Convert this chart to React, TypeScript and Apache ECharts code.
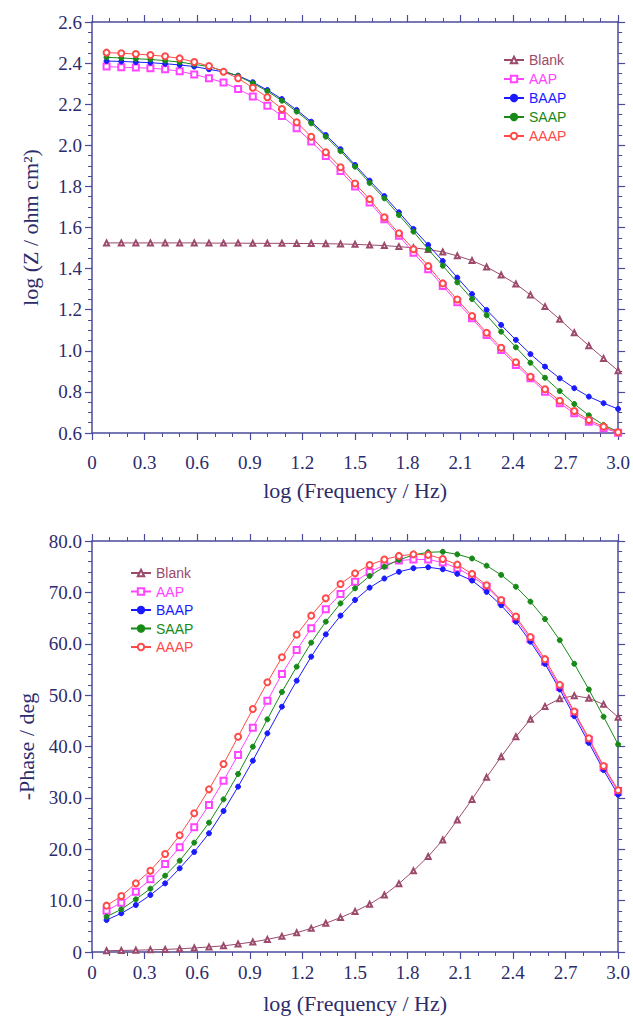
import React, { useEffect, useRef } from "react";
import * as echarts from "echarts";

// log(Frequency / Hz) sampling points
const logFreq = [0.083, 0.167, 0.25, 0.333, 0.417, 0.5, 0.583, 0.667, 0.75, 0.833, 0.917, 1.0, 1.083, 1.167, 1.25, 1.333, 1.417, 1.5, 1.583, 1.667, 1.75, 1.833, 1.917, 2.0, 2.083, 2.167, 2.25, 2.333, 2.417, 2.5, 2.583, 2.667, 2.75, 2.833, 2.917, 3.0];

const seriesNames = ["Blank", "AAP", "BAAP", "SAAP", "AAAP"];

// log |Z| (top chart)
const logZBlank = [1.525, 1.525, 1.525, 1.525, 1.525, 1.525, 1.525, 1.524, 1.524, 1.524, 1.523, 1.523, 1.523, 1.522, 1.522, 1.521, 1.520, 1.518, 1.515, 1.512, 1.507, 1.501, 1.493, 1.481, 1.462, 1.439, 1.408, 1.369, 1.325, 1.272, 1.215, 1.153, 1.088, 1.025, 0.963, 0.903];
const logZAAP = [2.383, 2.380, 2.378, 2.375, 2.370, 2.360, 2.345, 2.326, 2.305, 2.274, 2.237, 2.193, 2.143, 2.083, 2.018, 1.948, 1.875, 1.799, 1.722, 1.640, 1.560, 1.477, 1.397, 1.315, 1.236, 1.158, 1.077, 1.004, 0.931, 0.866, 0.801, 0.745, 0.696, 0.655, 0.623, 0.601];
const logZBAAP = [2.410, 2.408, 2.405, 2.402, 2.397, 2.391, 2.383, 2.370, 2.357, 2.339, 2.307, 2.269, 2.225, 2.172, 2.115, 2.050, 1.981, 1.904, 1.828, 1.753, 1.674, 1.593, 1.515, 1.437, 1.356, 1.276, 1.199, 1.126, 1.053, 0.984, 0.923, 0.866, 0.818, 0.777, 0.745, 0.717];
const logZSAAP = [2.428, 2.425, 2.421, 2.418, 2.412, 2.405, 2.394, 2.383, 2.362, 2.337, 2.302, 2.263, 2.217, 2.164, 2.107, 2.042, 1.972, 1.896, 1.817, 1.742, 1.661, 1.580, 1.494, 1.414, 1.333, 1.252, 1.173, 1.093, 1.017, 0.942, 0.869, 0.804, 0.741, 0.686, 0.639, 0.606];
const logZAAAP = [2.451, 2.448, 2.444, 2.439, 2.433, 2.423, 2.405, 2.386, 2.358, 2.326, 2.280, 2.234, 2.177, 2.112, 2.042, 1.966, 1.893, 1.814, 1.738, 1.650, 1.572, 1.494, 1.413, 1.328, 1.250, 1.169, 1.088, 1.015, 0.944, 0.874, 0.813, 0.757, 0.707, 0.663, 0.631, 0.604];

// -Phase / deg (bottom chart)
const phaseBlank = [0.25, 0.3, 0.35, 0.42, 0.5, 0.62, 0.78, 0.98, 1.2, 1.55, 1.95, 2.45, 3.05, 3.75, 4.6, 5.6, 6.7, 7.9, 9.3, 11.1, 13.3, 15.8, 18.6, 21.8, 25.7, 29.7, 34.0, 38.0, 41.9, 45.3, 47.8, 49.3, 49.9, 49.4, 48.2, 45.7];
const phaseAAP = [8.04, 9.60, 11.74, 14.15, 17.13, 20.38, 24.27, 28.61, 33.34, 38.35, 43.66, 48.92, 54.11, 58.78, 63.0, 66.70, 69.68, 72.08, 73.97, 75.3, 76.2, 76.4, 76.4, 75.8, 74.7, 73.1, 71.1, 68.2, 64.9, 60.9, 56.5, 51.6, 46.5, 41.3, 35.9, 31.2];
const phaseBAAP = [6.23, 7.53, 9.15, 11.09, 13.36, 16.29, 19.47, 23.10, 27.45, 32.18, 37.24, 42.56, 47.75, 52.81, 57.48, 61.83, 65.47, 68.52, 70.92, 72.7, 74.0, 74.7, 74.9, 74.5, 73.6, 72.3, 70.1, 67.5, 64.3, 60.4, 56.1, 51.1, 45.9, 40.7, 35.4, 30.6];
const phaseSAAP = [6.88, 8.30, 10.25, 12.33, 14.86, 17.78, 21.28, 25.18, 29.71, 34.65, 39.97, 45.29, 50.61, 55.54, 60.21, 64.30, 67.86, 70.79, 73.19, 75.0, 76.3, 77.3, 77.8, 77.9, 77.4, 76.6, 75.2, 73.4, 71.1, 68.2, 64.8, 60.7, 56.1, 51.1, 45.8, 40.4];
const phaseAAAP = [9.02, 10.90, 13.36, 15.83, 19.08, 22.71, 26.99, 31.66, 36.59, 41.91, 47.30, 52.49, 57.36, 61.77, 65.47, 68.84, 71.63, 73.70, 75.33, 76.4, 77.1, 77.4, 77.3, 76.5, 75.4, 73.6, 71.4, 68.5, 65.3, 61.3, 57.0, 52.0, 46.8, 41.6, 36.2, 31.5];

const xTickLabels = ["0", "0.3", "0.6", "0.9", "1.2", "1.5", "1.8", "2.1", "2.4", "2.7", "3.0"];

const colors = ["#9c4a6c", "#ff44ff", "#1a1aff", "#178a17", "#ff4a4a"];
const symbols = ["emptyTriangle", "emptyRect", "circle", "circle", "emptyCircle"];
const symbolSizes = [5, 6, 5, 5, 6];

const topData = [logZBlank, logZAAP, logZBAAP, logZSAAP, logZAAAP];
const bottomData = [phaseBlank, phaseAAP, phaseBAAP, phaseSAAP, phaseAAAP];

const axisColor = "#4b4b9c";
const labelColor = "#2c2c6c";
const serif = "'Liberation Serif', 'Times New Roman', serif";
const sans = "'Liberation Sans', Arial, sans-serif";

function xAxisDef(gridIndex: number, position: string, showLabel: boolean, labelMargin: number, nameGap: number) {
  return {
    gridIndex,
    type: "value",
    position,
    min: 0,
    max: 3,
    interval: 0.3,
    name: showLabel ? "log (Frequency / Hz)" : "",
    nameLocation: "middle",
    nameGap,
    nameTextStyle: { color: labelColor, fontFamily: serif, fontSize: 22 },
    axisLine: { show: true, onZero: false, lineStyle: { color: axisColor, width: 1.5 } },
    axisTick: { show: true, inside: false, length: 7, lineStyle: { color: axisColor, width: 1.2 } },
    minorTick: { show: true, splitNumber: 3, length: 4, lineStyle: { color: axisColor, width: 1 } },
    splitLine: { show: false },
    axisLabel: {
      show: showLabel,
      margin: labelMargin,
      color: labelColor,
      fontFamily: serif,
      fontSize: 19,
      formatter: (v: number) => xTickLabels[Math.round(v / 0.3)] ?? "",
    },
  };
}

function yAxisDef(gridIndex: number, position: string, showLabel: boolean, min: number, max: number, interval: number, minorSplit: number, name: string, nameGap: number, fmt: (v: number) => string) {
  return {
    gridIndex,
    type: "value",
    position,
    min,
    max,
    interval,
    name: showLabel ? name : "",
    nameLocation: "middle",
    nameGap,
    nameRotate: 90,
    nameTextStyle: { color: labelColor, fontFamily: serif, fontSize: 22 },
    axisLine: { show: true, onZero: false, lineStyle: { color: axisColor, width: 1.5 } },
    axisTick: { show: true, inside: false, length: 7, lineStyle: { color: axisColor, width: 1.2 } },
    minorTick: { show: true, splitNumber: minorSplit, length: 4, lineStyle: { color: axisColor, width: 1 } },
    splitLine: { show: false },
    axisLabel: {
      show: showLabel,
      margin: 10,
      color: labelColor,
      fontFamily: serif,
      fontSize: 19,
      formatter: fmt,
    },
  };
}

function legendDef(left: number, top: number, itemGap: number) {
  return {
    orient: "vertical",
    left,
    top,
    itemWidth: 20,
    itemHeight: 8,
    itemGap,
    selectedMode: false,
    textStyle: { fontFamily: sans, fontSize: 14 },
    data: seriesNames.map((n, i) => ({ name: n, textStyle: { color: colors[i] } })),
  };
}

export default function App() {
  const ref = useRef<HTMLDivElement>(null);
  useEffect(() => {
    if (!ref.current) return;
    const chart = echarts.init(ref.current, undefined, { renderer: "svg" });
    const series: any[] = [];
    seriesNames.forEach((name, i) => {
      [topData, bottomData].forEach((set, gi) => {
        series.push({
          name,
          type: "line",
          xAxisIndex: gi * 2,
          yAxisIndex: gi * 2,
          data: logFreq.map((x, k) => [x, set[i][k]]),
          symbol: symbols[i],
          symbolSize: symbolSizes[i],
          showAllSymbol: true,
          lineStyle: { color: colors[i], width: 1 },
          itemStyle: { color: colors[i], borderColor: colors[i], borderWidth: 1 },
          z: i === 0 ? 2 : 3 + i,
        });
      });
    });
    chart.setOption({
      animation: false,
      backgroundColor: "#ffffff",
      grid: [
        { left: 92, top: 22, width: 527, height: 411 },
        { left: 92, top: 541, width: 527, height: 411 },
      ],
      legend: [legendDef(498, 48, 5), legendDef(125, 561, 4.5)],
      xAxis: [
        xAxisDef(0, "bottom", true, 20, 46),
        xAxisDef(0, "top", false, 8, 0),
        xAxisDef(1, "bottom", true, 11, 40),
        xAxisDef(1, "top", false, 8, 0),
      ],
      yAxis: [
        yAxisDef(0, "left", true, 0.6, 2.6, 0.2, 4, "log (Z / ohm cm²)", 51, (v) => v.toFixed(1)),
        yAxisDef(0, "right", false, 0.6, 2.6, 0.2, 4, "", 0, (v) => v.toFixed(1)),
        yAxisDef(1, "left", true, 0, 80, 10, 5, "-Phase / deg", 39, (v) => (v === 0 ? "0" : v.toFixed(1))),
        yAxisDef(1, "right", false, 0, 80, 10, 5, "", 0, (v) => String(v)),
      ],
      series,
    });
    return () => chart.dispose();
  }, []);
  return (
    <div
      ref={ref}
      style={{ position: "absolute", left: 0, top: 0, width: 633, height: 1019, background: "#fff" }}
    />
  );
}
